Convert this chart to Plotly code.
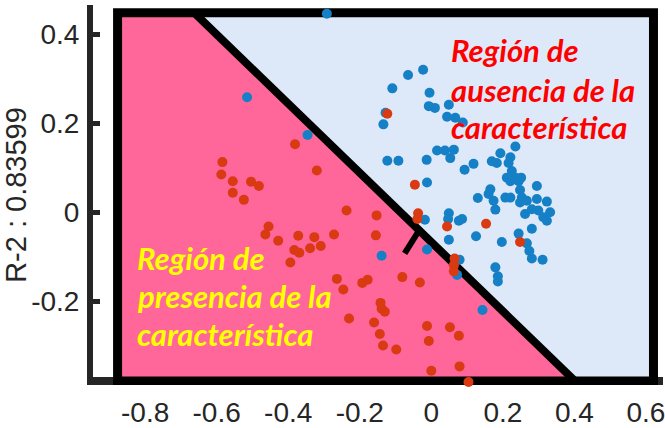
import numpy as np
import plotly.graph_objects as go

# --- samples: class with the feature (red) and without it (blue) ---
red_x = [-0.381, -0.320, -0.584, -0.587, -0.555, -0.504, -0.482, -0.555, -0.524, -0.237,
         -0.455, -0.464, -0.428, -0.372, -0.327, -0.309, -0.339, -0.272, -0.383, -0.369,
         -0.394, -0.264, -0.246, -0.193, -0.178, -0.230, -0.153, -0.155, -0.046, -0.037,
         -0.039, 0.044, 0.153, 0.248, 0.065, 0.063, 0.063, -0.081, -0.032, -0.142,
         -0.139, -0.130, -0.160, -0.144, -0.135, -0.098, -0.012, -0.007, 0.052, 0.077,
         0.000, 0.079, 0.104, -0.123]
red_y = [0.153, 0.094, 0.113, 0.085, 0.070, 0.069, 0.059, 0.044, 0.028, 0.004,
         -0.032, -0.050, -0.064, -0.053, -0.056, -0.076, -0.081, -0.050, -0.085, -0.091,
         -0.113, -0.150, -0.174, -0.159, -0.152, -0.239, -0.007, -0.052, 0.062, -0.002,
         -0.015, -0.032, -0.026, -0.067, -0.104, -0.119, -0.133, -0.146, -0.158, -0.204,
         -0.217, -0.224, -0.248, -0.274, -0.300, -0.309, -0.256, -0.290, -0.259, -0.278,
         -0.357, -0.347, -0.382, 0.222]

blue_x = [-0.292, -0.515, -0.346, -0.012, -0.018, 0.049, 0.047, 0.077, 0.086, 0.049,
          0.125, 0.197, 0.244, 0.267, 0.274, 0.281, 0.311, 0.281, 0.179, 0.186,
          0.186, -0.012, -0.139, 0.079, 0.072, 0.143, -0.065, -0.023, -0.109, -0.005,
          -0.007, 0.010, 0.049, 0.044, 0.067, 0.088, -0.128, -0.134, -0.123, -0.092,
          -0.013, 0.016, 0.038, 0.063, 0.053, 0.118, 0.093, 0.235, 0.193, 0.169,
          0.183, 0.221, 0.216, 0.225, 0.211, 0.235, 0.251, 0.295, 0.248, 0.165,
          0.160, 0.130, 0.174, 0.179, 0.207, 0.221, 0.221, 0.244, 0.253, 0.248,
          0.267, 0.295, 0.323, 0.281, 0.299, 0.313, 0.332, 0.323, 0.262]
blue_y = [0.447, 0.259, 0.174, 0.067, -0.017, -0.002, -0.015, -0.019, -0.015, -0.062,
          -0.054, -0.067, -0.048, -0.070, -0.087, -0.104, -0.107, -0.037, -0.124, -0.144,
          -0.156, -0.084, -0.098, -0.107, -0.141, -0.220, 0.309, 0.321, 0.279, 0.269,
          0.239, 0.235, 0.242, 0.215, 0.213, 0.202, 0.224, 0.198, 0.116, 0.116,
          0.118, 0.139, 0.139, 0.141, 0.122, 0.109, 0.096, 0.148, 0.133, 0.115,
          0.111, 0.124, 0.111, 0.093, 0.078, 0.078, 0.078, 0.059, 0.050, 0.052,
          0.041, 0.032, 0.026, 0.006, 0.033, 0.033, 0.070, 0.070, 0.033, 0.022,
          0.026, 0.030, 0.024, 0.007, 0.004, -0.011, 0.000, -0.019, -0.004]

# --- linear decision boundary  y = slope * x + intercept ---
boundary_slope = -0.779
boundary_intercept = -0.067
normal_base_x = -0.034
normal_length = 0.066

# --- shaded domain of the classifier ---
region_x = [-0.877, 0.621]
region_y = [-0.380, 0.449]

x_ticks = [-0.8, -0.6, -0.4, -0.2, 0, 0.2, 0.4, 0.6]
x_ticktext = ["-0.8", "-0.6", "-0.4", "-0.2", "0", "0.2", "0.4", "0.6"]
y_ticks = [-0.2, 0, 0.2, 0.4]
y_ticktext = ["-0.2", "0", "0.2", "0.4"]

x_range = [-0.9457, 0.6476]
y_range = [-0.3889, 0.4667]

PINK = "#FF6699"
PALE_BLUE = "#DDE9F8"
AXIS_GRAY = "#262626"

xl, xr = region_x
yb, yt = region_y
m, c = boundary_slope, boundary_intercept
x_top = (yt - c) / m
x_bot = (yb - c) / m

pink_path = f"M {xl},{yt} L {x_top},{yt} L {x_bot},{yb} L {xl},{yb} Z"
blue_path = f"M {x_top},{yt} L {xr},{yt} L {xr},{yb} L {x_bot},{yb} Z"

# normal vector of the boundary, pointing into the "presence" side
nb_y = m * normal_base_x + c
n = np.array([m, -1.0])
n = n / np.linalg.norm(n) * normal_length
ne_x, ne_y = normal_base_x + n[0], nb_y + n[1]

shapes = [
    dict(type="path", path=pink_path, fillcolor=PINK, line=dict(width=0), layer="between"),
    dict(type="path", path=blue_path, fillcolor=PALE_BLUE, line=dict(width=0), layer="between"),
    dict(type="line", x0=x_range[0] - 0.05, x1=x_range[1] + 0.05, y0=yb, y1=yb,
         line=dict(color=AXIS_GRAY, width=8), layer="between"),
    dict(type="rect", x0=xl, x1=xr, y0=yb, y1=yt,
         line=dict(color="black", width=9), fillcolor="rgba(0,0,0,0)", layer="between"),
    dict(type="line", x0=x_top, y0=yt, x1=x_bot, y1=yb,
         line=dict(color="black", width=8), layer="between"),
    dict(type="line", x0=normal_base_x, y0=nb_y, x1=ne_x, y1=ne_y,
         line=dict(color="black", width=6), layer="between"),
]

fig = go.Figure()
fig.add_trace(go.Scatter(x=blue_x, y=blue_y, mode="markers", cliponaxis=False,
                         marker=dict(symbol="circle", size=10, color="#1580C6",
                                     line=dict(width=0)), showlegend=False))
fig.add_trace(go.Scatter(x=red_x, y=red_y, mode="markers", cliponaxis=False,
                         marker=dict(symbol="circle", size=10, color="#D93A12",
                                     line=dict(width=0)), showlegend=False))

label_font = "Lato, 'Open Sans', sans-serif"
absence_lines = ["Región de", "ausencia de la", "característica"]
presence_lines = ["Región de", "presencia de la", "característica"]
absence_y = [0.365, 0.276, 0.191]
presence_y = [-0.104, -0.189, -0.273]

annotations = []
for txt, yy in zip(absence_lines, absence_y):
    annotations.append(dict(x=0.050, y=yy, xref="x", yref="y", text=f"<b><i>{txt}</i></b>",
                            showarrow=False, xanchor="left", yanchor="middle",
                            font=dict(family=label_font, size=31, color="#FF0000")))
for txt, yy in zip(presence_lines, presence_y):
    annotations.append(dict(x=-0.828, y=yy, xref="x", yref="y", text=f"<b><i>{txt}</i></b>",
                            showarrow=False, xanchor="left", yanchor="middle",
                            font=dict(family=label_font, size=31, color="#FFFF00")))

tick_font = dict(family="'Liberation Sans', Arial, sans-serif", size=28, color=AXIS_GRAY)

fig.update_layout(
    width=665, height=428,
    margin=dict(l=93, r=0, t=5, b=38),
    paper_bgcolor="white", plot_bgcolor="white",
    shapes=shapes, annotations=annotations,
    xaxis=dict(range=x_range, tickvals=x_ticks, ticktext=x_ticktext, ticks="",
               showline=False, showgrid=False, zeroline=False, tickfont=tick_font,
               ticklabelstandoff=8, ticklabeloverflow="allow"),
    yaxis=dict(range=y_range, tickvals=y_ticks, ticktext=y_ticktext, ticks="inside",
               ticklen=7, tickwidth=5, tickcolor=AXIS_GRAY,
               showline=True, linewidth=6, linecolor=AXIS_GRAY,
               showgrid=False, zeroline=False, tickfont=tick_font,
               ticklabelstandoff=2,
               title=dict(text="R-2 : 0.83599", standoff=0,
                          font=dict(family="'Liberation Sans', Arial, sans-serif",
                                    size=29, color=AXIS_GRAY))),
)

fig.write_html("out.html")
